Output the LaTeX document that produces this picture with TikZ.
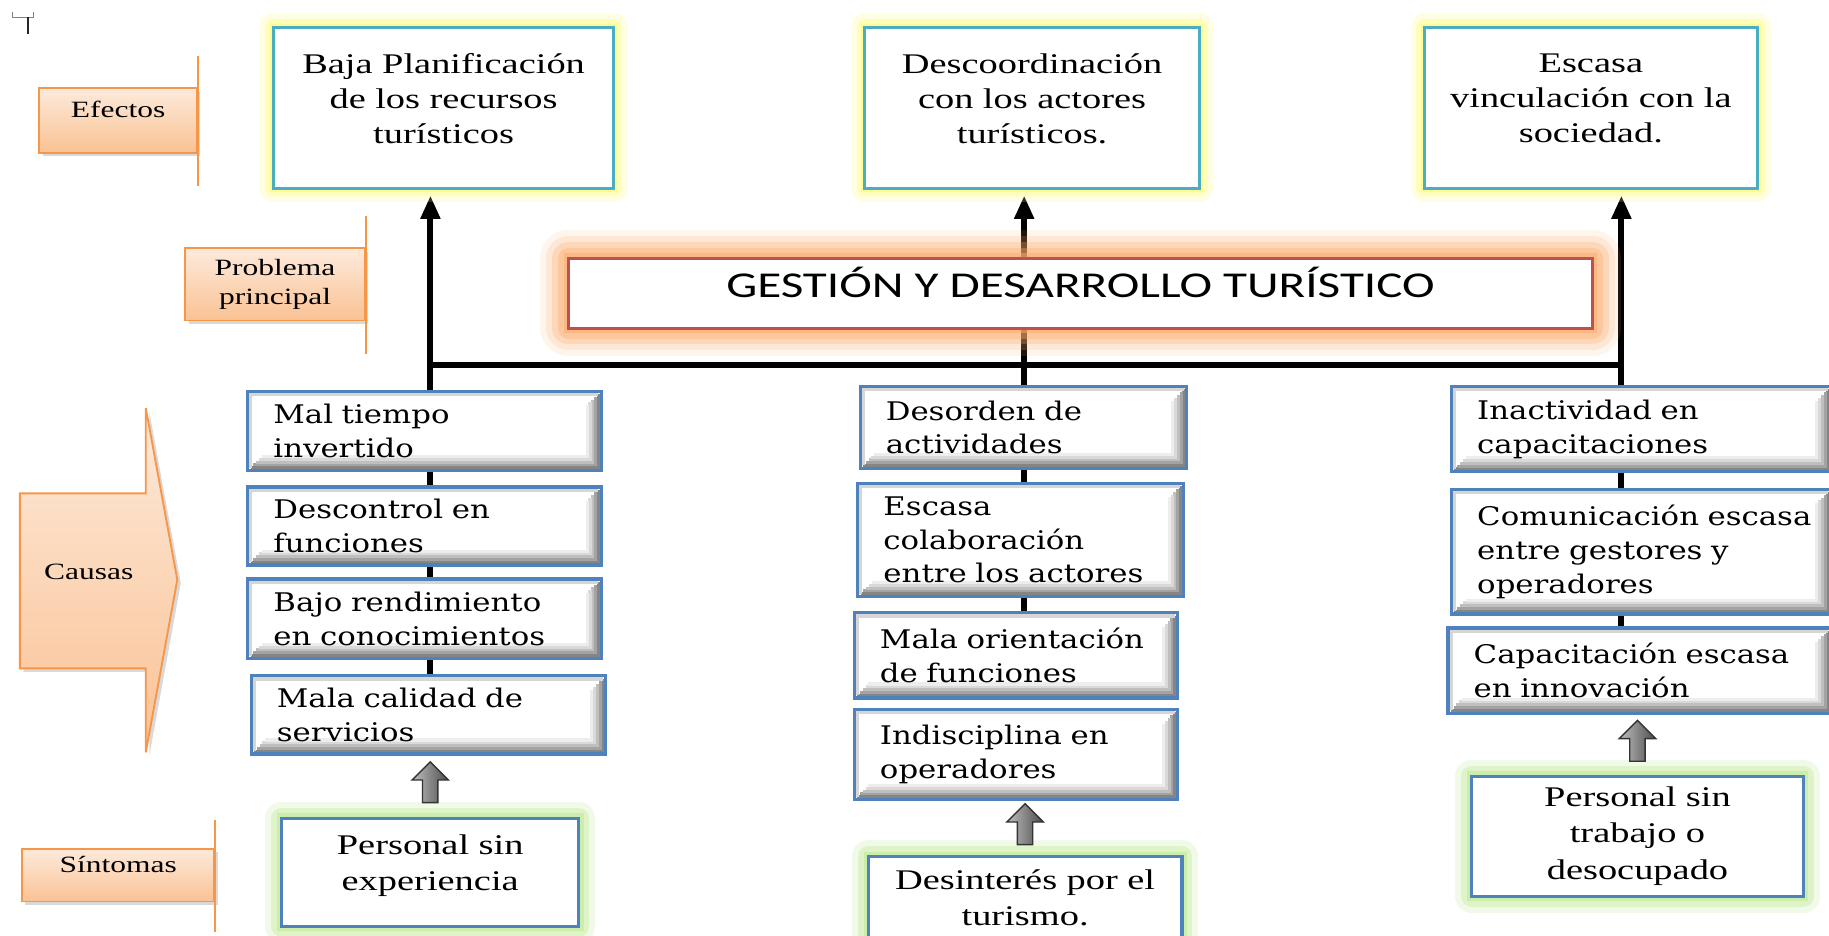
\documentclass[tikz,border=0pt]{standalone}
\usepackage{fontspec}
\usepackage{xcolor}
\usepackage{tikz}
\usetikzlibrary{shapes.arrows,shadows,calc,backgrounds,arrows.meta}
\newfontfamily\lfont{Liberation Serif}[FakeStretch=1.35]
\newfontfamily\cfont{DejaVu Serif}[FakeStretch=1.2]
\newfontfamily\tfont{Carlito}[FakeStretch=1.35]
\definecolor{efbord}{RGB}{75,172,198}
\definecolor{yglow}{RGB}{255,250,110}
\definecolor{cbord}{RGB}{79,129,189}
\definecolor{cnavy}{RGB}{38,58,92}
\definecolor{tbord}{RGB}{192,80,77}
\definecolor{oglow}{RGB}{250,170,105}
\definecolor{gglow}{RGB}{185,232,140}
\definecolor{lbltop}{RGB}{253,234,219}
\definecolor{lblbot}{RGB}{250,194,148}
\definecolor{lbledge}{RGB}{247,150,70}

\begin{document}
\begin{tikzpicture}[
  x=0.5pt,y=-0.5pt,
  lbl/.style={draw=lbledge, line width=0.8pt, top color=lbltop, bottom color=lblbot, drop shadow={shadow xshift=1.5pt, shadow yshift=-1.5pt, opacity=.3}},
  lblbox/.style={lbl, anchor=north west, inner sep=0pt, align=center, font=\lfont\fontsize{10pt}{12.5pt}\selectfont},
  lblline/.style={draw=lbledge, line width=1pt},
  effect/.style={draw=efbord, line width=1.3pt, fill=white, anchor=north west, inner sep=0pt, align=center, text depth=38pt,
    font=\lfont\fontsize{12.2pt}{15pt}\selectfont,
    preaction={draw=yglow, line width=12pt, opacity=.2, line join=round},
    preaction={draw=yglow, line width=7pt, opacity=.35, line join=round},
    preaction={draw=yglow, line width=3pt, opacity=.5}},
  titlebox/.style={draw=tbord, line width=1.3pt, fill=white, anchor=north west, text height=10pt, text depth=6pt,
    font=\tfont\fontsize{15.6pt}{18pt}\selectfont,
    preaction={draw=oglow, line width=24pt, opacity=.12, line join=round},
    preaction={draw=oglow, line width=19pt, opacity=.18, line join=round},
    preaction={draw=oglow, line width=14pt, opacity=.26, line join=round},
    preaction={draw=oglow, line width=9pt, opacity=.36, line join=round},
    preaction={draw=oglow, line width=4pt, opacity=.5}},
  cause/.style={draw=cbord, line width=1.4pt, fill=white, anchor=north west, inner xsep=11pt, inner ysep=1pt, align=left,
    font=\cfont\fontsize{11pt}{14.5pt}\selectfont,
    drop shadow={shadow xshift=0.7pt, shadow yshift=-0.7pt, fill=cnavy, opacity=1},
    path picture={
      \foreach \k/\c in {1.2/48,2.4/36,3.6/25,4.8/15,6/7}
        \draw[black!\c, line width=1.3pt] ([shift={(\k pt,\k pt)}]path picture bounding box.south west)
          -- ([shift={(-\k pt,\k pt)}]path picture bounding box.south east) -- ([shift={(-\k pt,-\k pt)}]path picture bounding box.north east);
      \draw[black!16, line width=1.6pt] ([shift={(1.2pt,1.2pt)}]path picture bounding box.south west)
        -- ([shift={(1.2pt,-1.2pt)}]path picture bounding box.north west) -- ([shift={(-1.2pt,-1.2pt)}]path picture bounding box.north east);}},
  sympt/.style={draw=cbord, line width=1.3pt, fill=white, anchor=north west, inner sep=0pt, align=center,
    font=\lfont\fontsize{12.2pt}{15.5pt}\selectfont,
    preaction={draw=gglow, line width=14pt, opacity=.2, line join=round},
    preaction={draw=gglow, line width=9pt, opacity=.35, line join=round},
    preaction={draw=gglow, line width=4pt, opacity=.5}},
  uparr/.style={single arrow, shape border rotate=90, draw=black!80, line width=0.6pt, left color=black!25, right color=black!70,
    inner sep=3pt, minimum height=17.5pt, single arrow head extend=4.5pt},
  trunk/.style={draw=black, line width=2.6pt}]
\useasboundingbox (0,0) rectangle (1568,802);
\draw[black!50, line width=0.4pt] (11,10) -- (11,15) -- (29,15) -- (29,10);
\draw[black!85, line width=0.9pt] (24,15) -- (24,29);
\node[lblbox, minimum width=67.5pt, minimum height=27.5pt, text height=6.6pt, text depth=9pt] (efx) at (33,75) {Efectos};
\node[lblbox, minimum width=77pt, minimum height=31pt] (pp) at (158,212) {Problema\\principal};
\node[lblbox, minimum width=82.5pt, minimum height=22.5pt, text height=6.6pt, text depth=8.5pt] (sint) at (18,727) {Síntomas};
\draw[lblline] ([yshift=13.5pt]efx.north east) -- ([yshift=-14pt]efx.south east);
\draw[lblline] ([yshift=13.5pt]pp.north east) -- ([yshift=-14pt]pp.south east);
\draw[lblline] ([yshift=12pt]sint.north east) -- ([yshift=-12.5pt]sint.south east);
\draw[lbl] (17,423) -- (125,423) -- (125,350) -- (152,497) -- (125,645) -- (125,573) -- (17,573) -- cycle;
\node[font=\lfont\fontsize{10pt}{12.5pt}\selectfont] (cau) at (76,490) {Causas};
\node[effect, text width=146pt, minimum height=69pt] (ef1) at (233,22)
 {Baja Planificación\\de los recursos\\turísticos};
\node[effect, text width=143.5pt, minimum height=69pt] (ef2) at (740,22)
 {Descoordinación\\con los actores\\turísticos.};
\node[effect, text width=142.5pt, minimum height=69pt] (ef3) at (1220,22)
 {Escasa\\vinculación con la\\sociedad.};
\node[titlebox, minimum width=439pt, minimum height=30pt] (tit) at (486,220) {GESTIÓN Y DESARROLLO TURÍSTICO};
\node[cause, text width=129.5pt, minimum height=34pt] (ca11) at (211,334) {Mal tiempo\\invertido};
\node[cause, text width=129.5pt, minimum height=33.5pt] (ca12) at (211,416) {Descontrol en\\funciones};
\node[cause, text width=129.5pt, minimum height=34pt] (ca13) at (211,495) {\mbox{Bajo rendimiento}\\\mbox{en conocimientos}};
\node[cause, text width=130pt, minimum height=33.5pt] (ca14) at (214,578) {Mala calidad de\\servicios};
\node[cause, text width=118pt, minimum height=35pt] (ca21) at (736,330) {Desorden de\\actividades};
\node[cause, text width=117.5pt, minimum height=48.5pt] (ca22) at (734,413) {Escasa\\colaboración\\\mbox{entre los actores}};
\node[cause, text width=116.5pt, minimum height=36.5pt] (ca23) at (731,524) {\mbox{Mala orientación}\\de funciones};
\node[cause, text width=116.5pt, minimum height=38.5pt] (ca24) at (731,607) {Indisciplina en\\operadores};
\node[cause, text width=140.5pt, minimum height=36.5pt] (ca31) at (1243,330) {Inactividad en\\capacitaciones};
\node[cause, text width=140.5pt, minimum height=53.5pt] (ca32) at (1243,418) {\mbox{Comunicación escasa}\\entre gestores y\\operadores};
\node[cause, text width=142pt, minimum height=36.5pt] (ca33) at (1240,537) {\mbox{Capacitación escasa}\\en innovación};
\node[sympt, text width=127.5pt, minimum height=46.5pt, text depth=23.5pt] (sy1) at (240,700) {Personal sin\\experiencia};
\node[sympt, text width=134.5pt, minimum height=35.5pt] (sy2) at (743,733) {Desinterés por el\\turismo.};
\node[sympt, text width=142.5pt, minimum height=51.5pt] (sy3) at (1260,664) {Personal sin\\trabajo o\\desocupado};
\node[uparr] (up1) at ($(sy1.north)!.5!(sy1.north |- ca14.south)$) {};
\node[uparr] (up2) at ($(sy2.north)!.5!(sy2.north |- ca24.south)$) {};
\node[uparr] (up3) at ($(sy3.north)!.5!(sy3.north |- ca33.south)$) {};
\begin{pgfonlayer}{background}
\coordinate (j1) at (369,313);
\coordinate (j2) at (878,313);
\coordinate (j3) at (1390,313);
\draw[trunk] (j1 |- ca14.north) -- (j1) -- (j3) -- (j3 |- ca33.north);
\draw[trunk] (j2) -- (j2 |- ca23.north);
\foreach \j/\e in {j1/ef1,j2/ef2,j3/ef3}
  \draw[trunk, -{Triangle[length=10pt,width=8pt]}, shorten >=2.5pt] (\j) -- (\j |- \e.south);
\end{pgfonlayer}
\end{tikzpicture}
\end{document}
